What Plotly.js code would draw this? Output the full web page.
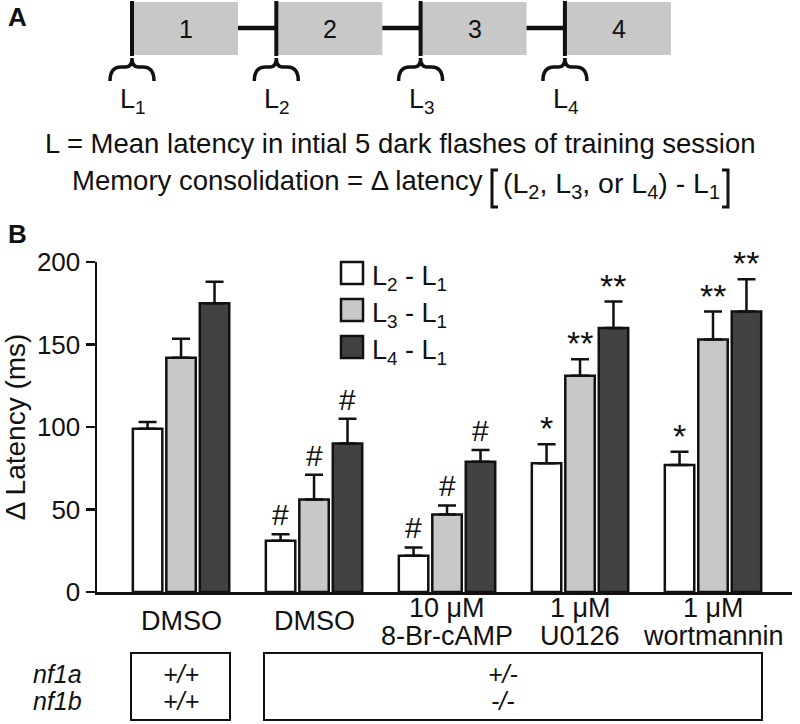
<!DOCTYPE html>
<html>
<head>
<meta charset="utf-8">
<script src="https://cdn.plot.ly/plotly-3.0.1.min.js"></script>
<style>html,body{margin:0;padding:0;background:#fff;}#chart{width:800px;height:724px;}</style>
</head>
<body>
<div id="chart"></div>
<script>
// ---------- data ----------
const categories = ["DMSO", "DMSO", "10 μM<br>8-Br-cAMP", "1 μM<br>U0126", "1 μM<br>wortmannin"];
const seriesNames = ["L<sub>2</sub> - L<sub>1</sub>", "L<sub>3</sub> - L<sub>1</sub>", "L<sub>4</sub> - L<sub>1</sub>"];
const L2minusL1 = [99, 31, 22, 78, 77];
const L3minusL1 = [142, 56, 47, 131, 153];
const L4minusL1 = [175, 90, 79, 160, 170];
const L2err = [4, 4, 5, 11.5, 8];
const L3err = [11.5, 15, 5.5, 10, 17];
const L4err = [13, 15, 7, 16, 19.5];
const L2sig = ["", "#", "#", "*", "*"];
const L3sig = ["", "#", "#", "**", "**"];
const L4sig = ["", "#", "#", "**", "**"];
const yTicks = [0, 50, 100, 150, 200];
const sessions = ["1", "2", "3", "4"];
const latencyLabels = ["L<sub>1</sub>", "L<sub>2</sub>", "L<sub>3</sub>", "L<sub>4</sub>"];
const genes = ["nf1a", "nf1b"];
const wildType = ["+/+", "+/+"];
const mutant = ["+/-", "-/-"];
const panelAText1 = "L = Mean latency in intial 5 dark flashes of training session";
const panelAText2a = "Memory consolidation = Δ latency";
const panelAText2b = "(L<sub>2</sub>, L<sub>3</sub>, or L<sub>4</sub>) - L<sub>1</sub>";

// ---------- layout helpers ----------
const W = 800, H = 724;
const M = {l: 97, r: 8, t: 262, b: 132};
const PW = W - M.l - M.r, PH = H - M.t - M.b;
const px = x => (x - M.l) / PW;
const py = y => (H - M.b - y) / PH;
const P = (x, y) => px(x) + "," + py(y);

const FONT = "Liberation Sans, Arial, Helvetica, sans-serif";
const INK = "#111";
const colors = ["#ffffff", "#c8c8c8", "#424242"];
const values = [L2minusL1, L3minusL1, L4minusL1];
const errs = [L2err, L3err, L4err];
const sigs = [L2sig, L3sig, L4sig];
const idx = categories.map((_, i) => i);

const bargap = 0.245, bargroupgap = 0.12;
const slot = (1 - bargap) / 3;

const traces = values.map((v, j) => ({
  type: "bar",
  name: seriesNames[j],
  x: idx,
  y: v,
  marker: {color: colors[j], line: {color: INK, width: 2.5}},
  error_y: {type: "data", symmetric: false, array: errs[j], arrayminus: v.map(() => 0),
            color: INK, thickness: 2.5, width: 9},
  showlegend: false,
  hoverinfo: "skip"
}));

const shapes = [];
const annotations = [];
const txt = (x, y, text, size, opts) => Object.assign({xref: "paper", yref: "paper", x: px(x), y: py(y), text: text,
  showarrow: false, xanchor: "center", yanchor: "middle", font: {family: FONT, size: size, color: INK}}, opts || {});

// significance marks
sigs.forEach((s, j) => {
  s.forEach((t, i) => {
    if (!t) return;
    annotations.push({
      xref: "x", yref: "y", x: i + (j - 1) * slot, y: values[j][i] + errs[j][i],
      text: t, showarrow: false, yanchor: "bottom", xanchor: "center",
      yshift: t === "#" ? 1 : -5,
      font: {family: FONT, size: t === "#" ? 30 : 34, color: INK}
    });
  });
});

// x category labels (two lines or centered single line)
categories.forEach((c, i) => {
  const parts = c.split("<br>");
  if (parts.length === 1) {
    annotations.push({xref: "x", yref: "paper", x: i, y: py(621), text: parts[0], showarrow: false,
      yanchor: "middle", font: {family: FONT, size: 27, color: INK}});
  } else {
    parts.forEach((p, k) => annotations.push({xref: "x", yref: "paper", x: i, y: py(608 + k * 28), text: p,
      showarrow: false, yanchor: "middle", font: {family: FONT, size: 27, color: INK}}));
  }
});

// custom legend
seriesNames.forEach((n, j) => {
  const cy = 273 + j * 37;
  shapes.push({type: "rect", xref: "paper", yref: "paper", x0: px(341), x1: px(363), y0: py(cy - 11), y1: py(cy + 11),
    fillcolor: colors[j], line: {color: INK, width: 2.5}});
  annotations.push(txt(370, cy + 5, n, 27, {xanchor: "left"}));
});

// panel labels
annotations.push(txt(6, 17, "<b>A</b>", 26, {xanchor: "left"}));
annotations.push(txt(6, 234, "<b>B</b>", 26, {xanchor: "left"}));

// panel A schematic
sessions.forEach((s, i) => {
  const left = 132 + i * 144.3, right = left + 106;
  shapes.push({type: "rect", xref: "paper", yref: "paper", x0: px(left), x1: px(right), y0: py(2), y1: py(55),
    fillcolor: "#c8c8c8", line: {width: 0}});
  shapes.push({type: "line", xref: "paper", yref: "paper", x0: px(left), x1: px(left), y0: py(1), y1: py(56),
    line: {color: INK, width: 4}});
  if (i < sessions.length - 1) {
    shapes.push({type: "line", xref: "paper", yref: "paper", x0: px(right), x1: px(left + 144.3), y0: py(28), y1: py(28),
      line: {color: INK, width: 4.5}});
  }
  annotations.push(txt((left + right) / 2 + 1, 29, s, 25));
  const c = left;
  const path = "M" + P(c - 22, 81) + " Q" + P(c - 22, 67) + " " + P(c - 11, 67) + " L" + P(c - 6, 67) +
    " Q" + P(c, 67) + " " + P(c, 58) + " Q" + P(c, 67) + " " + P(c + 6, 67) + " L" + P(c + 11, 67) +
    " Q" + P(c + 22, 67) + " " + P(c + 22, 81);
  shapes.push({type: "path", xref: "paper", yref: "paper", path: path, line: {color: INK, width: 3.5}});
  annotations.push(txt(c + 1, 101, latencyLabels[i], 27));
});

annotations.push(txt(400, 143, panelAText1, 27.5));
annotations.push(txt(485, 180, panelAText2a, 27.5, {xanchor: "right"}));
annotations.push(txt(501, 185, panelAText2b, 28.5, {xanchor: "left"}));
shapes.push({type: "path", xref: "paper", yref: "paper",
  path: "M" + P(498, 170) + " L" + P(492, 170) + " L" + P(492, 207) + " L" + P(498, 207),
  line: {color: INK, width: 3}});
shapes.push({type: "path", xref: "paper", yref: "paper",
  path: "M" + P(722, 170) + " L" + P(728, 170) + " L" + P(728, 207) + " L" + P(722, 207),
  line: {color: INK, width: 3}});

// genotype table
shapes.push({type: "rect", xref: "paper", yref: "paper", x0: px(131), x1: px(230), y0: py(653), y1: py(720),
  line: {color: INK, width: 2}});
shapes.push({type: "rect", xref: "paper", yref: "paper", x0: px(264), x1: px(762), y0: py(653), y1: py(720),
  line: {color: INK, width: 2}});
genes.forEach((g, k) => {
  const cy = 674 + k * 27;
  annotations.push(txt(57, cy, "<i>" + g + "</i>", 25));
  annotations.push(txt(181, cy, "<i>" + wildType[k] + "</i>", 25));
  annotations.push(txt(503, cy, "<i>" + mutant[k] + "</i>", 25));
});

const layout = {
  width: W, height: H,
  margin: M,
  paper_bgcolor: "#fff", plot_bgcolor: "#fff",
  font: {family: FONT, color: INK},
  barmode: "group", bargap: bargap, bargroupgap: bargroupgap,
  showlegend: false,
  xaxis: {range: [-0.632, 4.594], showline: true, linecolor: INK, linewidth: 2.5, ticks: "",
    showticklabels: false, showgrid: false, zeroline: false, fixedrange: true},
  yaxis: {range: [0, 200], tickvals: yTicks, ticks: "outside", ticklen: 9, tickwidth: 2.5, tickcolor: INK,
    showline: true, linecolor: INK, linewidth: 2.5, showgrid: false, zeroline: false, fixedrange: true,
    tickfont: {family: FONT, size: 26, color: INK},
    title: {text: "Δ Latency (ms)", font: {family: FONT, size: 28, color: INK}, standoff: 6}},
  shapes: shapes,
  annotations: annotations
};

Plotly.newPlot("chart", traces, layout, {displayModeBar: false, staticPlot: true});
</script>
</body>
</html>
